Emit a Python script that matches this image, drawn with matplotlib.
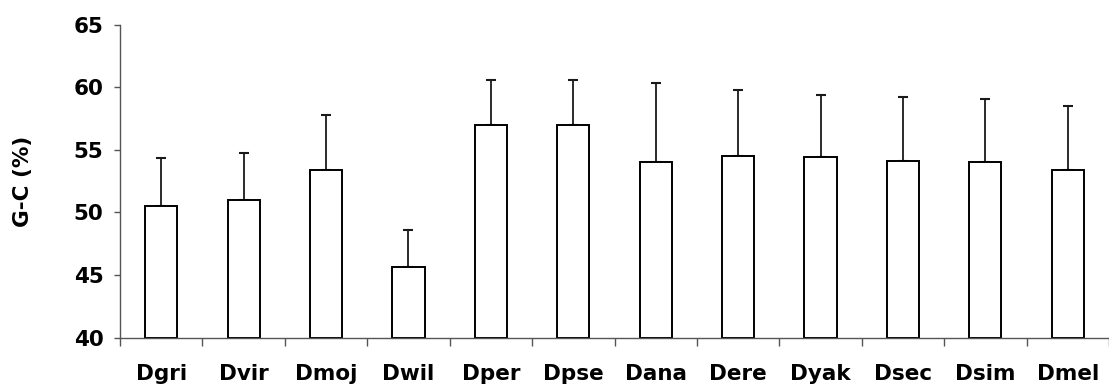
import numpy as np
import matplotlib
matplotlib.use('Agg')
import matplotlib.pyplot as plt

# species and G-C content
species = ['Dgri', 'Dvir', 'Dmoj', 'Dwil', 'Dper', 'Dpse',
           'Dana', 'Dere', 'Dyak', 'Dsec', 'Dsim', 'Dmel']
gc_mean = [50.5, 51.0, 53.4, 45.6, 57.0, 57.0, 54.0, 54.5, 54.4, 54.1, 54.0, 53.4]
gc_upper = [54.3, 54.7, 57.75, 48.6, 60.6, 60.6, 60.3, 59.8, 59.4, 59.2, 59.05, 58.5]

yticks = [40, 45, 50, 55, 60, 65]

plt.rcParams['font.family'] = 'DejaVu Sans'
plt.rcParams['font.weight'] = 'bold'

fig = plt.figure(figsize=(11.09, 3.87), dpi=100)
ax = fig.add_axes([120 / 1109, 49.5 / 387, 989 / 1109, 313 / 387])

x = np.arange(len(species))
mean = np.array(gc_mean)
err_up = np.array(gc_upper) - mean

ax.bar(x, mean - 40, bottom=40, width=0.39, color='white',
       edgecolor='black', linewidth=1.4, zorder=2)
ax.errorbar(x, mean, yerr=[np.zeros_like(err_up), err_up], fmt='none',
            ecolor='#1a1a1a', elinewidth=1.3, capsize=3.6, capthick=1.5, zorder=1)

ax.set_ylim(40, 65)
ax.set_xlim(-0.5, -0.5 + 989 / 83.0)
ax.set_yticks(yticks)
ax.set_yticklabels([str(t) for t in yticks], fontsize=15.5, fontweight='bold')

# labels centred on bars, tick marks between bars
ax.set_xticks(x)
ax.set_xticklabels(species, fontsize=15.5, fontweight='bold')
ax.set_xticks(np.arange(-0.5, len(species), 1.0), minor=True)
ax.tick_params(axis='x', which='major', length=0, pad=19)
ax.tick_params(axis='x', which='minor', length=5.5, width=1.0, color='#555555', direction='out')
ax.tick_params(axis='y', length=4, width=1.0, color='#555555', pad=8)

for side in ['top', 'right']:
    ax.spines[side].set_visible(False)
for side in ['left', 'bottom']:
    ax.spines[side].set_color('#555555')
    ax.spines[side].set_linewidth(1.0)

ax.set_ylabel('G-C (%)', fontsize=15.5, fontweight='bold')
ax.yaxis.set_label_coords((33 - 120) / 989, 0.5)

fig.savefig('out.png', dpi=100)
